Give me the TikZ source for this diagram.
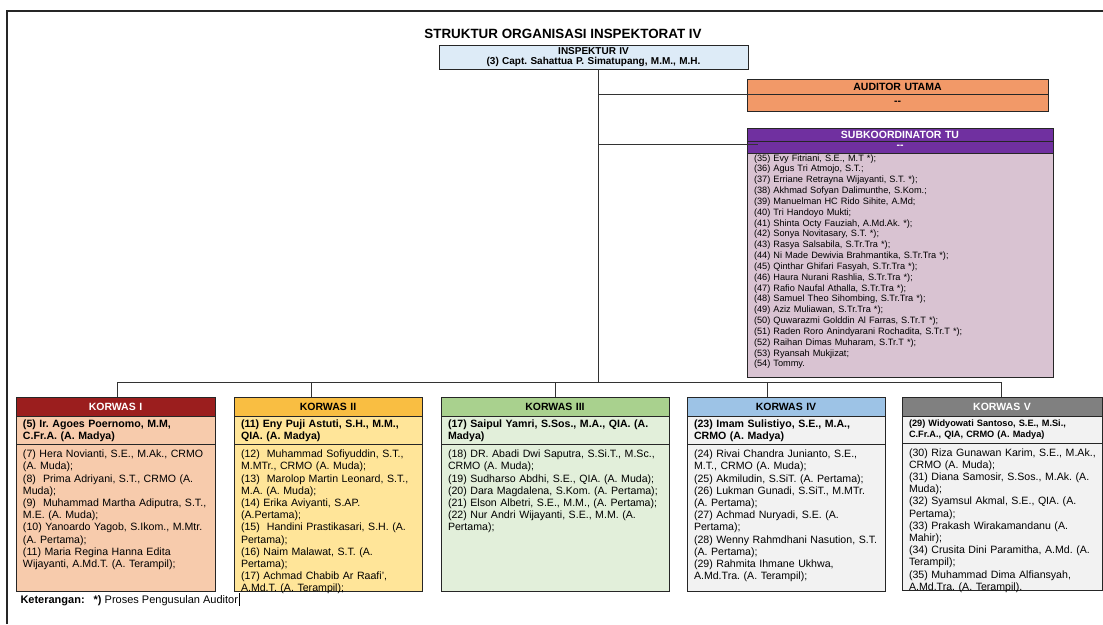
\documentclass[tikz,border=0pt]{standalone}
\usepackage{fontspec}
\setmainfont{Liberation Sans}
\usetikzlibrary{positioning}
\frenchspacing

\definecolor{inspblue}{RGB}{221,235,247}
\definecolor{auorange}{RGB}{242,153,104}
\definecolor{subpurple}{RGB}{112,48,160}
\definecolor{submauve}{RGB}{217,195,210}
\definecolor{kIhead}{RGB}{155,30,30}
\definecolor{kIbody}{RGB}{247,203,172}
\definecolor{kIIhead}{RGB}{249,190,66}
\definecolor{kIIbody}{RGB}{255,229,153}
\definecolor{kIIIhead}{RGB}{169,209,142}
\definecolor{kIIIbody}{RGB}{226,239,218}
\definecolor{kIVhead}{RGB}{157,195,230}
\definecolor{kIVbody}{RGB}{242,242,242}
\definecolor{kVhead}{RGB}{128,128,128}
\definecolor{kVbody}{RGB}{242,242,242}

\newcommand{\lstfont}{\fontsize{10.6}{12.2}\selectfont}
\newcommand{\subfont}{\fontsize{9.2}{10.84}\selectfont}

\begin{document}
\frenchspacing
\begin{tikzpicture}[x=1pt,y=-1pt,outer sep=0pt,
    head node/.style={draw=black!85,line width=0.7pt,inner sep=0pt,align=center,
                      font=\bfseries\fontsize{10.5}{12}\selectfont},
    name node/.style={draw=black!85,line width=0.7pt,inner xsep=0pt,align=left,
                      minimum height=27pt,font=\bfseries\lstfont,
                      execute at begin node={\leftskip=7pt}},
    list node/.style={draw=black!85,line width=0.7pt,inner xsep=0pt,inner ysep=3pt,
                      align=left,text height=10pt,font=\lstfont,
                      execute at begin node={\leftskip=7pt}},
    link/.style={draw=black!80,line width=0.6pt}]

  \useasboundingbox (0,0) rectangle (1103,624);
  \draw[line width=1.8pt,black!85] (7,624) -- (7,11) -- (1103,11);

  % top
  \node[font=\bfseries\fontsize{13.4}{15}\selectfont] (title) at (563,34)
    {STRUKTUR ORGANISASI INSPEKTORAT IV};
  \node[head node,fill=inspblue,anchor=north west,text width=309pt,minimum height=24pt,
        font=\bfseries\fontsize{10}{10}\selectfont] (insp) at (439,45)
    {INSPEKTUR IV\\(3) Capt. Sahattua P. Simatupang, M.M., M.H.};

  \node[head node,fill=auorange,anchor=north west,text width=301pt,minimum height=15pt] (au) at (747,79)
    {AUDITOR UTAMA};
  \node[head node,fill=auorange,text width=301pt,minimum height=17pt,below=0pt of au] (auv) {-{}-};

  \node[head node,fill=subpurple,text=white,anchor=north west,text width=306pt,minimum height=13pt] (sub) at (747,128)
    {SUBKOORDINATOR TU};
  \node[head node,fill=subpurple,text=white,text width=306pt,minimum height=12pt,below=0pt of sub] (subv) {-{}-};
  \node[list node,fill=submauve,font=\subfont,text width=306pt,inner ysep=1pt,text height=7pt,
        text depth=215pt,below=0pt of subv] (subl)
    {(35) Evy Fitriani, S.E., M.T *);\\
     (36) Agus Tri Atmojo, S.T.;\\
     (37) Erriane Retrayna Wijayanti, S.T. *);\\
     (38) Akhmad Sofyan Dalimunthe, S.Kom.;\\
     (39) Manuelman HC Rido Sihite, A.Md;\\
     (40) Tri Handoyo Mukti;\\
     (41) Shinta Octy Fauziah, A.Md.Ak. *);\\
     (42) Sonya Novitasary, S.T. *);\\
     (43) Rasya Salsabila, S.Tr.Tra *);\\
     (44) Ni Made Dewivia Brahmantika, S.Tr.Tra *);\\
     (45) Qinthar Ghifari Fasyah, S.Tr.Tra *);\\
     (46) Haura Nurani Rashlia, S.Tr.Tra *);\\
     (47) Rafio Naufal Athalla, S.Tr.Tra *);\\
     (48) Samuel Theo Sihombing, S.Tr.Tra *);\\
     (49) Aziz Muliawan, S.Tr.Tra *);\\
     (50) Quwarazmi Golddin Al Farras, S.Tr.T *);\\
     (51) Raden Roro Anindyarani Rochadita, S.Tr.T *);\\
     (52) Raihan Dimas Muharam, S.Tr.T *);\\
     (53) Ryansah Mukjizat;\\
     (54) Tommy.};

  % korwas I
  \node[head node,fill=kIhead,text=white,anchor=north west,text width=199pt,minimum height=19pt] (k1) at (16,397) {KORWAS I};
  \node[name node,fill=kIbody,text width=199pt,below=0pt of k1] (k1n)
    {(5) Ir. Agoes Poernomo, M.M,\\C.Fr.A. (A. Madya)};
  \node[list node,fill=kIbody,text width=199pt,text depth=131pt,below=0pt of k1n] (k1l)
    {(7) Hera Novianti, S.E., M.Ak., CRMO\\
     (A. Muda);\\
     (8) \ Prima Adriyani, S.T., CRMO (A.\\
     Muda);\\
     (9) \ Muhammad Martha Adiputra, S.T.,\\
     M.E. (A. Muda);\\
     (10) Yanoardo Yagob, S.Ikom., M.Mtr.\\
     (A. Pertama);\\
     (11) Maria Regina Hanna Edita\\
     Wijayanti, A.Md.T. (A. Terampil);};

  % korwas II
  \node[head node,fill=kIIhead,anchor=north west,text width=188pt,minimum height=19pt] (k2) at (234,397) {KORWAS II};
  \node[name node,fill=kIIbody,text width=188pt,below=0pt of k2] (k2n)
    {(11) Eny Puji Astuti, S.H., M.M.,\\QIA. (A. Madya)};
  \node[list node,fill=kIIbody,text width=188pt,text depth=131pt,below=0pt of k2n] (k2l)
    {(12) \ Muhammad Sofiyuddin, S.T.,\\
     M.MTr., CRMO (A. Muda);\\
     (13) \ Marolop Martin Leonard, S.T.,\\
     M.A. (A. Muda);\\
     (14) Erika Aviyanti, S.AP.\\
     (A.Pertama);\\
     (15) \ Handini Prastikasari, S.H. (A.\\
     Pertama);\\
     (16) Naim Malawat, S.T. (A.\\
     Pertama);\\
     (17) Achmad Chabib Ar Raafi',\\
     A.Md.T. (A. Terampil);};

  % korwas III
  \node[head node,fill=kIIIhead,anchor=north west,text width=228pt,minimum height=19pt] (k3) at (441,397) {KORWAS III};
  \node[name node,fill=kIIIbody,text width=228pt,below=0pt of k3] (k3n)
    {(17) Saipul Yamri, S.Sos., M.A., QIA. (A.\\Madya)};
  \node[list node,fill=kIIIbody,text width=228pt,text depth=131pt,below=0pt of k3n] (k3l)
    {(18) DR. Abadi Dwi Saputra, S.Si.T., M.Sc.,\\
     CRMO (A. Muda);\\
     (19) Sudharso Abdhi, S.E., QIA. (A. Muda);\\
     (20) Dara Magdalena, S.Kom. (A. Pertama);\\
     (21) Elson Albetri, S.E., M.M., (A. Pertama);\\
     (22) Nur Andri Wijayanti, S.E., M.M. (A.\\
     Pertama);};

  % korwas IV
  \node[head node,fill=kIVhead,anchor=north west,text width=198pt,minimum height=19pt] (k4) at (687,397) {KORWAS IV};
  \node[name node,fill=kIVbody,text width=198pt,below=0pt of k4] (k4n)
    {(23) Imam Sulistiyo, S.E., M.A.,\\CRMO (A. Madya)};
  \node[list node,fill=kIVbody,text width=198pt,text depth=131pt,below=0pt of k4n] (k4l)
    {(24) Rivai Chandra Junianto, S.E.,\\
     M.T., CRMO (A. Muda);\\
     (25) Akmiludin, S.SiT. (A. Pertama);\\
     (26) Lukman Gunadi, S.SiT., M.MTr.\\
     (A. Pertama);\\
     (27) Achmad Nuryadi, S.E. (A.\\
     Pertama);\\
     (28) Wenny Rahmdhani Nasution, S.T.\\
     (A. Pertama);\\
     (29) Rahmita Ihmane Ukhwa,\\
     A.Md.Tra. (A. Terampil);};

  % korwas V
  \node[head node,fill=kVhead,text=white,anchor=north west,text width=200pt,minimum height=19pt] (k5) at (902,397) {KORWAS V};
  \node[name node,fill=kVbody,text width=200pt,font=\bfseries\fontsize{9.2}{10.5}\selectfont,below=0pt of k5] (k5n)
    {(29) Widyowati Santoso, S.E., M.Si.,\\C.Fr.A., QIA, CRMO (A. Madya)};
  \node[list node,fill=kVbody,text width=200pt,text depth=131pt,below=0pt of k5n] (k5l)
    {(30) Riza Gunawan Karim, S.E., M.Ak.,\\
     CRMO (A. Muda);\\
     (31) Diana Samosir, S.Sos., M.Ak. (A.\\
     Muda);\\
     (32) Syamsul Akmal, S.E., QIA. (A.\\
     Pertama);\\
     (33) Prakash Wirakamandanu (A.\\
     Mahir);\\
     (34) Crusita Dini Paramitha, A.Md. (A.\\
     Terampil);\\
     (35) Muhammad Dima Alfiansyah,\\
     A.Md.Tra. (A. Terampil).};

  % lines
  \coordinate (bus) at (598,382);
  \coordinate (aulink) at ([xshift=13pt]auv.north west);
  \coordinate (sublink) at ([xshift=11pt,yshift=-3pt]subv.north west);
  \draw[link] (insp.south -| bus) -- (bus);
  \draw[link] (aulink -| bus) -- (aulink);
  \draw[link] (sublink -| bus) -- (sublink);
  \foreach \k/\dx in {k1/1.5,k2/-17,k3/0,k4/-19,k5/-1}
    \draw[link] ([xshift=\dx pt]\k.north) |- (bus);

  \node[anchor=base west,inner sep=0pt,font=\fontsize{11}{13}\selectfont] (ket) at (20.5,603)
    {\textbf{Keterangan:}\hspace{9pt}\textbf{*)} Proses Pengusulan Auditor};
  \draw[line width=0.6pt] ([xshift=1pt,yshift=2pt]ket.north east) -- ([xshift=1pt,yshift=-1pt]ket.south east);
\end{tikzpicture}
\end{document}
